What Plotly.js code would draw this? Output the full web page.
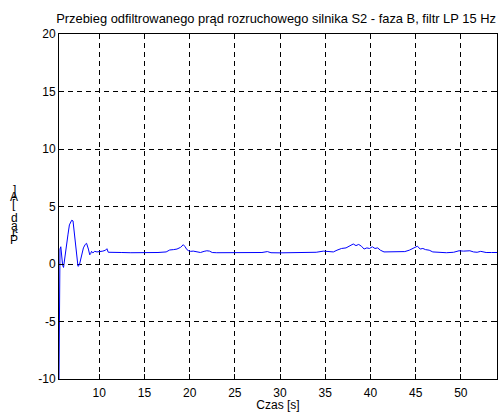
<!DOCTYPE html>
<html><head><meta charset="utf-8">
<script src="https://cdn.plot.ly/plotly-3.0.1.min.js"></script>
<style>html,body{margin:0;padding:0;background:#fff;}</style>
</head><body>
<div id="chart" style="width:501px;height:412px;"></div>
<script>
var czas = [5.55,5.58,5.62,5.66,5.75,5.85,5.95,6.05,6.15,6.25,6.4,6.55,6.7,6.85,6.95,7.1,7.25,7.35,7.5,7.65,7.8,7.9,8.05,8.25,8.45,8.6,8.8,8.95,9.05,9.15,9.3,9.5,9.75,10.1,10.4,10.7,10.85,11.0,11.4,11.8,12.5,13.5,14.5,15.5,16.5,17.4,17.8,18.2,18.6,19.0,19.3,19.5,19.7,19.9,20.1,20.4,20.8,21.2,21.6,21.9,22.2,22.5,23.0,24,25,26,27,28,28.6,29,30,31,32,33,34,34.8,35.4,35.9,36.3,36.8,37.3,37.7,38.1,38.4,38.7,39.0,39.3,39.6,39.9,40.2,40.5,40.8,41.1,41.5,41.9,42.5,43.2,43.8,44.3,44.8,45.2,45.5,45.8,46.1,46.5,46.9,47.5,48.4,49.2,49.8,50.3,51.0,51.4,51.8,52.2,52.8,53.4,54.0];
var prad = [-10,-4,0.8,1.3,1.5,0.4,-0.1,-0.3,0.2,0.9,1.7,2.6,3.4,3.7,3.8,3.75,2.7,1.5,0.5,-0.2,-0.1,0.3,0.8,1.4,1.7,1.8,1.3,0.8,0.9,1.1,0.97,1.1,1.05,1.08,1.12,1.2,1.33,1.02,1.0,1.0,1.0,0.98,0.97,0.99,1.0,1.05,1.22,1.25,1.3,1.45,1.68,1.5,1.25,1.15,1.1,1.12,1.05,1.0,1.1,1.15,1.12,1.0,0.98,0.99,1.0,0.97,0.98,1.0,1.08,0.98,0.97,0.98,1.0,0.99,1.02,1.12,1.1,1.05,1.2,1.35,1.4,1.55,1.74,1.6,1.7,1.55,1.3,1.4,1.35,1.5,1.35,1.4,1.2,1.05,1.05,1.02,1.06,1.08,1.2,1.4,1.55,1.3,1.35,1.25,1.2,1.05,1.0,0.98,1.02,1.15,1.12,1.15,1.05,1.02,1.1,1.0,1.0,1.0];
var xTicks = [10,15,20,25,30,35,40,45,50];
var yTicks = [-10,-5,0,5,10,15,20];
var tytul = 'Przebieg odfiltrowanego prąd rozruchowego silnika S2 - faza B, filtr LP 15 Hz';
var etykietaX = 'Czas [s]';
var etykietaY = 'Prąd [A]';

var fnt = {family: 'Liberation Sans, Arial, sans-serif', size: 12, color: '#000'};
var chars = etykietaY.split('');
var anns = [];
for (var k = 0; k < chars.length; k++) {
  if (chars[k] === ' ') continue;
  anns.push({text: chars[k], xref: 'paper', yref: 'paper', x: 0, y: 0,
    xanchor: 'center', yanchor: 'middle', xshift: -45, yshift: 139 + k * 7.2,
    showarrow: false, font: fnt});
}

var axBase = {
  showline: true, linecolor: '#000', linewidth: 1, mirror: 'ticks',
  ticks: 'inside', ticklen: 5, tickcolor: '#000', tickwidth: 1,
  showgrid: true, gridcolor: '#000', gridwidth: 1, griddash: '5px,4px',
  zeroline: false, tickfont: fnt, tickmode: 'array'
};

var layout = {
  width: 501, height: 412,
  margin: {l: 59, r: 4, t: 34, b: 33},
  paper_bgcolor: '#fff', plot_bgcolor: '#fff',
  showlegend: false,
  title: {text: tytul, font: {family: fnt.family, size: 12.9, color: '#000'},
    x: 0.551, xanchor: 'center', y: 0.955, yanchor: 'middle'},
  xaxis: Object.assign({}, axBase, {range: [5.55, 54], tickvals: xTicks, ticktext: xTicks.map(String),
    ticklabelstandoff: 3, title: {text: etykietaX, font: fnt, standoff: 4}}),
  yaxis: Object.assign({}, axBase, {range: [-10, 20], tickvals: yTicks, ticktext: yTicks.map(String)}),
  annotations: anns
};

Plotly.newPlot('chart', [{x: czas, y: prad, type: 'scatter', mode: 'lines',
  line: {color: '#0000ff', width: 1}}], layout, {staticPlot: true, displayModeBar: false});
</script>
</body></html>
